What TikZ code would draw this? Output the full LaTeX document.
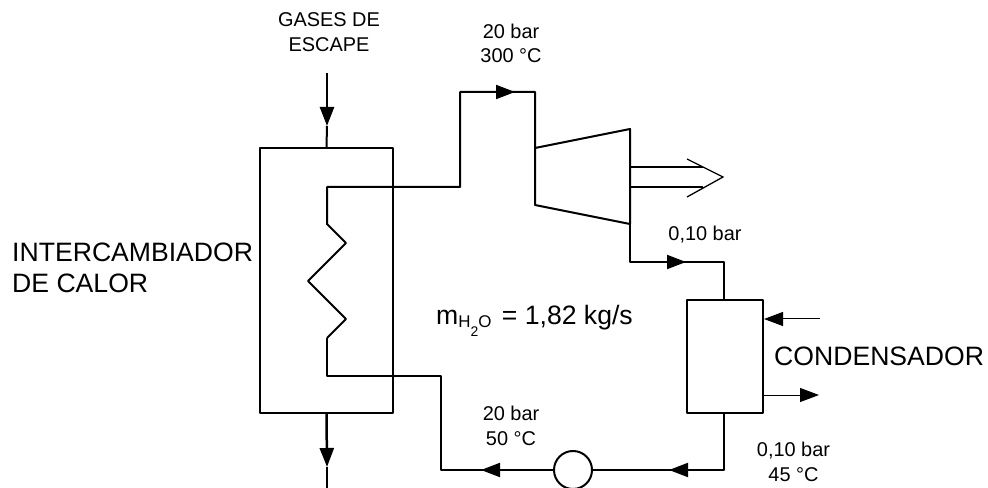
\documentclass[tikz,border=0pt]{standalone}
\usepackage{fontspec}
\setmainfont{Liberation Sans}
\usetikzlibrary{arrows.meta}
\tikzset{
  pipe/.style={draw=black,line width=2bp,line join=round},
  thinpipe/.style={draw=black,line width=1bp},
  flow/.style={-{Triangle[length=19bp,width=14bp,sep=0pt]}},
  lbl/.style={anchor=base,inner sep=0pt,font=\fontsize{20}{24}\selectfont},
  biglbl/.style={anchor=base west,inner sep=0pt,font=\fontsize{26.7}{31}\selectfont},
}
\newcommand{\subA}[1]{\raisebox{-3bp}{\fontsize{17}{17}\selectfont #1}}
\newcommand{\subB}[1]{\raisebox{-12bp}{\fontsize{14}{14}\selectfont #1}}
\begin{document}
\begin{tikzpicture}[x=1bp,y=-1bp]
\useasboundingbox (0,0) rectangle (988,488);
% exchanger
\node[pipe,rectangle,minimum width=133bp,minimum height=265bp,inner sep=0pt] (hx) at (326.5,280.5) {};
\coordinate (gasin) at (327,73);
\coordinate (gashead) at (327,126);
\coordinate (gasout) at (327,488);
\coordinate (gasouthead) at (327,467);
\draw[pipe,line width=2.5bp,flow] (gasin) -- (gashead);
\draw[pipe] (gashead) -- (hx.north);
\draw[pipe,line width=2.5bp,flow] (hx.south) -- (gasouthead);
\draw[pipe] (gasouthead) -- (gasout);
% turbine
\coordinate (tlt) at (535,148);
\coordinate (tlb) at (535,205);
\coordinate (trt) at (630,129);
\coordinate (trb) at (630,224);
\draw[pipe] (tlt) -- (trt) -- (trb) -- (tlb) -- cycle;
% condenser
\node[pipe,rectangle,minimum width=76bp,minimum height=113bp,inner sep=0pt] (cond) at (725,356.5) {};
% pump
\node[pipe,circle,minimum size=38bp,inner sep=0pt] (pump) at (573,470) {};
% hot-side loop
\coordinate (h1) at (515,92);
\draw[pipe] (327,338) -- (346,319) -- (308,281) -- (346,243) -- (327,224) -- (327,187) -- (460,187) -- (460,92) -- (535,92) -- (tlt);
\draw[pipe,flow] (460,92) -- (h1);
\draw[pipe] (327,338) -- (327,376) -- (441,376) -- (441,470) -- (pump.west);
\coordinate (h3) at (481,470);
\draw[pipe,flow] (pump.west) -- (h3);
\coordinate (h2) at (686,262);
\draw[pipe] (trb) -- (630,262) -- (724,262) -- (724,299.5);
\draw[pipe,flow] (630,262) -- (h2);
\coordinate (h4) at (669,470);
\draw[pipe] (724,413) -- (724,470) -- (pump.east);
\draw[pipe,flow] (724,470) -- (h4);
% power output arrow
\coordinate (p1) at (630,167);
\coordinate (p2) at (630,187);
\coordinate (ptip) at (723,177);
\coordinate (pb1) at (687,159);
\coordinate (pb2) at (687,197);
\draw[thinpipe,line width=1.3bp] (p1) -- (703,167);
\draw[thinpipe,line width=1.3bp] (p2) -- (703,187);
\draw[thinpipe,line width=1.3bp,line join=miter] (pb1) -- (ptip) -- (pb2);
% cooling water
\coordinate (cin) at (820,319);
\coordinate (cint) at (764,319);
\coordinate (couts) at (763,395);
\coordinate (cout) at (819,395);
\draw[thinpipe,flow] (cin) -- (cint);
\draw[thinpipe,flow] (couts) -- (cout);
% labels
\node[lbl] (t1a) at (329,27) {GASES DE};
\node[lbl] (t1b) at (329,52) {ESCAPE};
\node[lbl] (t2a) at (511,39) {20 bar};
\node[lbl] (t2b) at (511,63) {300 °C};
\node[lbl] (t3) at (705,241) {0,10 bar};
\node[lbl] (t4a) at (511,420) {20 bar};
\node[lbl] (t4b) at (511,445) {50 °C};
\node[lbl] (t5a) at (793.5,456) {0,10 bar};
\node[lbl] (t5b) at (793.5,481) {45 °C};
\node[biglbl] (t6a) at (12,262) {INTERCAMBIADOR};
\node[biglbl] (t6b) at (12,293) {DE CALOR};
\node[biglbl] (t7) at (774,366) {CONDENSADOR};
\node[biglbl] (t8) at (436,325) {m\subA{H}\subB{2}\subA{O}\hspace{3bp} = 1,82 kg/s};
\end{tikzpicture}
\end{document}
